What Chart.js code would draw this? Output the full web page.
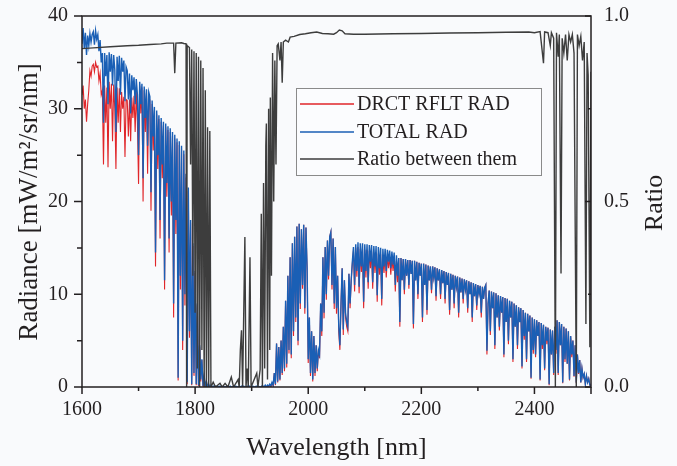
<!DOCTYPE html>
<html>
<head>
<meta charset="utf-8">
<title>Radiance and ratio</title>
<script src="https://cdn.jsdelivr.net/npm/chart.js@4.4.1/dist/chart.umd.min.js"></script>
<style>
  html, body { margin: 0; padding: 0; background: #f9fafc; }
  #chart { display: block; }
</style>
</head>
<body>
<canvas id="chart" width="677" height="466"></canvas>
<script>
// Spectra are sampled every 2 nm from 1600 to 2500 nm (one row = 20 nm)
const startNm = 1600;
const stepNm = 2;

// TOTAL RAD [mW/m2/sr/nm]
const totalRad = [
    37.0, 38.7, 36.5, 38.2, 35.8, 37.9, 36.8, 38.1, 37.2, 38.0,
    38.3, 36.9, 38.4, 37.5, 38.0, 36.2, 37.4, 35.0, 36.0, 28.5,
    36.0, 33.5, 35.8, 30.5, 36.1, 34.0, 35.9, 32.5, 35.8, 34.2,
    27.5, 35.6, 33.0, 35.7, 31.5, 35.5, 34.0, 35.2, 30.8, 34.5,
    34.1, 31.0, 33.8, 29.5, 33.6, 32.0, 33.4, 30.5, 33.2, 31.5,
    25.0, 32.9, 30.5, 32.7, 22.5, 32.4, 29.0, 32.1, 26.0, 31.8,
    31.3, 21.0, 30.9, 27.0, 30.2, 14.5, 29.8, 25.0, 29.3, 18.0,
    29.0, 24.0, 28.6, 11.5, 28.4, 22.0, 28.1, 16.0, 27.9, 20.0,
    27.5, 9.0, 27.2, 18.0, 26.8, 1.0, 26.5, 12.0, 26.0, 5.0,
    25.5, 10.0, 23.0, 0.5, 21.5, 6.0, 18.0, 0.3, 15.5, 1.5,
    12.5, 0.3, 9.0, 0.2, 4.5, 0.8, 3.0, 0.1, 1.2, 0.1,
    0.6, 0.0, 0.3, 0.0, 0.2, 0.0, 0.1, 0.0, 0.1, 0.0,
    0.1, 0.0, 0.1, 0.0, 0.0, 0.1, 0.0, 0.0, 0.1, 0.0,
    0.0, 0.1, 0.0, 0.0, 0.1, 0.0, 0.1, 0.0, 0.0, 0.1,
    0.0, 0.1, 0.0, 0.1, 0.0, 0.0, 0.1, 0.0, 0.1, 0.0,
    0.0, 0.1, 0.0, 0.0, 0.1, 0.0, 0.1, 0.0, 0.0, 0.1,
    0.1, 0.0, 0.2, 0.0, 0.2, 0.1, 0.3, 0.1, 0.5, 0.2,
    1.5, 0.3, 4.7, 0.6, 4.3, 0.8, 5.0, 1.5, 6.5, 2.0,
    9.3, 2.5, 12.0, 4.0, 14.0, 3.5, 15.5, 6.0, 16.2, 7.5,
    17.3, 5.0, 17.6, 9.0, 17.0, 11.0, 17.5, 8.5, 17.2, 12.9,
    3.0, 7.5, 1.5, 6.0, 0.8, 5.5, 1.5, 4.5, 2.0, 4.0,
    3.5, 9.0, 6.0, 14.0, 8.0, 15.1, 10.0, 15.8, 12.0, 16.2,
    16.7, 11.0, 16.0, 9.0, 15.1, 8.5, 12.0, 6.5, 4.5, 9.0,
    12.8, 6.2, 11.5, 8.0, 7.0, 6.5, 12.2, 9.0, 11.5, 13.5,
    15.1, 11.0, 15.4, 12.5, 15.6, 10.8, 15.5, 13.0, 15.5, 9.2,
    15.4, 12.5, 15.4, 11.3, 15.3, 13.5, 15.3, 11.3, 15.2, 13.0,
    15.2, 9.9, 15.1, 12.8, 15.0, 9.5, 14.9, 13.0, 14.9, 12.5,
    14.8, 13.5, 14.7, 12.8, 14.6, 13.2, 14.5, 11.0, 14.2, 12.0,
    13.9, 7.0, 13.9, 11.5, 13.8, 10.5, 13.8, 12.0, 13.7, 11.0,
    13.7, 12.2, 13.6, 6.8, 13.6, 11.5, 13.5, 10.0, 13.4, 12.0,
    13.3, 7.5, 13.3, 11.0, 13.2, 8.3, 13.1, 11.5, 13.0, 10.5,
    13.0, 11.8, 12.9, 9.8, 12.8, 11.5, 12.7, 10.0, 12.6, 11.2,
    12.5, 9.5, 12.4, 11.0, 12.3, 8.3, 12.2, 10.5, 12.1, 9.0,
    12.0, 10.8, 11.9, 8.0, 11.8, 10.2, 11.7, 9.5, 11.6, 10.5,
    11.5, 8.5, 11.4, 10.0, 11.3, 7.5, 11.2, 9.8, 11.1, 8.8,
    11.0, 10.0, 10.9, 8.0, 10.8, 9.5, 10.7, 11.0, 3.9, 9.0,
    10.4, 6.0, 10.3, 8.5, 10.2, 4.5, 10.1, 7.5, 9.9, 6.5,
    9.8, 8.0, 9.7, 3.5, 9.6, 7.0, 9.5, 5.0, 9.3, 7.5,
    9.2, 3.0, 9.0, 6.5, 8.8, 4.5, 8.6, 7.0, 8.5, 2.2,
    8.3, 5.5, 8.0, 3.0, 7.9, 6.0, 7.7, 1.0, 7.5, 4.0,
    7.3, 3.5, 7.2, 5.5, 7.0, 0.8, 6.9, 4.5, 6.7, 2.0,
    6.5, 5.0, 6.4, 0.3, 6.2, 3.5, 6.1, 1.5, 6.5, 4.0,
    7.2, 1.5, 7.0, 4.5, 6.8, 0.5, 6.5, 3.0, 6.3, 2.5,
    6.0, 0.8, 5.5, 3.5, 5.0, 1.2, 4.5, 0.5, 3.5, 1.5,
    2.9, 0.5, 2.0, 1.0, 1.4, 0.3, 1.2, 0.5, 0.9, 0.2,
    0.2
];

// DRCT RFLT RAD [mW/m2/sr/nm], same wavelengths
const directRad = [
    31.5, 32.5, 30.0, 31.0, 28.6, 30.5, 32.0, 34.1, 33.5, 34.6,
    34.8, 34.0, 35.0, 34.5, 34.6, 33.0, 33.8, 31.5, 32.0, 24.0,
    32.5, 28.5, 32.3, 23.7, 32.9, 30.0, 32.7, 26.5, 32.6, 30.0,
    23.5, 32.3, 28.5, 32.2, 27.5, 31.8, 30.0, 31.3, 24.8, 31.0,
    30.9, 27.0, 31.0, 26.5, 31.2, 29.0, 31.4, 27.5, 31.8, 28.5,
    21.9, 32.5, 29.5, 32.3, 20.0, 32.0, 27.5, 31.7, 23.0, 31.4,
    30.9, 19.0, 30.5, 25.5, 29.8, 13.0, 29.4, 23.5, 28.9, 16.0,
    28.6, 22.5, 28.2, 10.5, 28.0, 20.5, 27.7, 14.5, 27.5, 18.5,
    27.1, 7.5, 26.8, 16.5, 26.4, 0.7, 26.1, 10.5, 25.6, 4.0,
    25.1, 8.8, 22.6, 0.3, 21.1, 5.3, 17.7, 0.2, 15.2, 1.2,
    12.3, 0.2, 8.8, 0.1, 4.3, 0.6, 2.9, 0.0, 1.1, 0.0,
    0.5, 0.0, 0.2, 0.0, 0.1, 0.0, 0.0, 0.0, 0.0, 0.0,
    0.0, 0.0, 0.0, 0.0, 0.0, 0.0, 0.0, 0.0, 0.0, 0.0,
    0.0, 0.0, 0.0, 0.0, 0.0, 0.0, 0.0, 0.0, 0.0, 0.0,
    0.0, 0.0, 0.0, 0.0, 0.0, 0.0, 0.0, 0.0, 0.0, 0.0,
    0.0, 0.0, 0.0, 0.0, 0.0, 0.0, 0.0, 0.0, 0.0, 0.0,
    0.0, 0.0, 0.1, 0.0, 0.1, 0.0, 0.2, 0.0, 0.4, 0.1,
    1.5, 0.2, 4.7, 0.5, 4.3, 0.7, 5.0, 1.3, 6.5, 1.7,
    9.3, 2.1, 12.0, 3.6, 14.0, 3.1, 15.5, 5.5, 16.2, 7.0,
    17.3, 4.5, 17.6, 8.4, 17.0, 10.6, 17.5, 7.9, 17.2, 12.6,
    2.6, 7.5, 1.2, 6.0, 0.6, 5.5, 1.2, 4.5, 1.7, 4.0,
    3.1, 9.0, 5.5, 14.0, 7.4, 15.1, 9.4, 15.8, 11.6, 16.2,
    16.7, 10.5, 16.0, 8.4, 15.1, 7.9, 12.0, 5.9, 4.0, 9.0,
    12.8, 5.6, 11.5, 7.5, 6.5, 6.0, 12.2, 8.5, 11.5, 13.3,
    14.7, 10.3, 15.0, 11.9, 15.1, 10.1, 14.9, 12.4, 14.9, 8.5,
    14.8, 11.8, 14.8, 10.6, 14.7, 12.8, 14.6, 10.6, 14.5, 12.3,
    14.5, 9.2, 14.4, 12.1, 14.3, 8.8, 14.2, 12.3, 14.2, 11.8,
    14.1, 12.8, 14.0, 12.1, 13.9, 12.5, 13.8, 10.3, 13.6, 11.3,
    13.9, 6.5, 13.9, 11.5, 13.8, 10.0, 13.8, 12.0, 13.7, 10.6,
    13.7, 12.2, 13.6, 6.3, 13.6, 11.5, 13.5, 9.5, 13.4, 12.0,
    13.3, 7.0, 13.3, 11.0, 13.2, 7.8, 13.1, 11.5, 13.0, 10.1,
    13.0, 11.8, 12.9, 9.3, 12.8, 11.5, 12.7, 9.5, 12.6, 11.2,
    12.5, 9.0, 12.4, 11.0, 12.3, 7.8, 12.2, 10.5, 12.1, 8.5,
    12.0, 10.8, 11.9, 7.5, 11.8, 10.2, 11.7, 9.0, 11.6, 10.5,
    11.5, 8.0, 11.4, 10.0, 11.3, 7.0, 11.2, 9.8, 11.1, 8.3,
    11.0, 10.0, 10.9, 7.5, 10.8, 9.5, 10.7, 11.0, 3.5, 9.0,
    10.4, 5.6, 10.3, 8.5, 10.2, 4.1, 10.1, 7.5, 9.9, 6.1,
    9.8, 8.0, 9.7, 3.2, 9.6, 7.0, 9.5, 4.6, 9.3, 7.5,
    9.2, 2.7, 9.0, 6.5, 8.8, 4.1, 8.6, 7.0, 8.5, 2.0,
    8.3, 5.1, 8.0, 2.7, 7.9, 6.0, 7.7, 0.9, 7.5, 3.6,
    7.3, 3.2, 7.2, 5.5, 7.0, 0.7, 6.9, 4.1, 6.7, 1.8,
    6.5, 4.6, 6.4, 0.2, 6.2, 3.5, 6.1, 1.3, 6.5, 3.6,
    7.2, 1.3, 7.0, 4.5, 6.8, 0.4, 6.5, 2.7, 6.3, 2.5,
    6.0, 0.7, 5.5, 3.2, 5.0, 1.1, 4.5, 0.4, 3.5, 1.4,
    2.9, 0.5, 2.0, 1.0, 1.4, 0.3, 1.2, 0.5, 0.9, 0.2,
    0.2
];

// Ratio between them, on its own wavelength list (denser where it jumps)
const ratioNm = [
    1600, 1620, 1650, 1680, 1700, 1720, 1740, 1750, 1762, 1764,
    1766, 1776, 1780, 1784, 1785, 1786, 1790, 1792, 1794, 1796,
    1798, 1800, 1802, 1804, 1806, 1808, 1810, 1812, 1814, 1816,
    1818, 1820, 1822, 1824, 1826, 1828, 1832, 1836, 1844, 1848,
    1853, 1858, 1864, 1868, 1876, 1878, 1880, 1882, 1884, 1888,
    1890, 1892, 1894, 1897, 1899, 1909, 1911, 1915, 1917, 1919,
    1921, 1923, 1925, 1926, 1928, 1930, 1932, 1933, 1935, 1937,
    1939, 1941, 1943, 1945, 1947, 1950, 1952, 1954, 1956, 1960,
    1965, 1968, 1975, 1985, 1995, 2005, 2015, 2025, 2035, 2045,
    2050, 2055, 2060, 2065, 2080, 2100, 2150, 2200, 2250, 2300,
    2350, 2390, 2400, 2410, 2416, 2418, 2424, 2428, 2430, 2434,
    2437, 2439, 2442, 2444, 2447, 2449, 2452, 2455, 2458, 2461,
    2464, 2467, 2470, 2474, 2476, 2479, 2482, 2485, 2488, 2491,
    2493, 2495, 2498, 2500
];
const ratioVal = [
    0.912, 0.914, 0.917, 0.920, 0.921, 0.923, 0.925, 0.927, 0.927, 0.846,
    0.927, 0.928, 0.926, 0.925, 0.000, 0.920, 0.915, 0.600, 0.910, 0.300,
    0.905, 0.200, 0.900, 0.050, 0.890, 0.000, 0.880, 0.100, 0.860, 0.000,
    0.800, 0.000, 0.700, 0.000, 0.690, 0.000, 0.013, 0.000, 0.010, 0.000,
    0.010, 0.000, 0.027, 0.000, 0.020, 0.000, 0.100, 0.153, 0.000, 0.404,
    0.000, 0.050, 0.000, 0.350, 0.000, 0.037, 0.000, 0.047, 0.467, 0.000,
    0.550, 0.050, 0.650, 0.710, 0.020, 0.750, 0.100, 0.780, 0.300, 0.900,
    0.500, 0.880, 0.600, 0.920, 0.925, 0.880, 0.930, 0.820, 0.930, 0.935,
    0.930, 0.943, 0.945, 0.950, 0.952, 0.955, 0.957, 0.953, 0.952, 0.951,
    0.955, 0.962, 0.960, 0.952, 0.951, 0.951, 0.952, 0.953, 0.954, 0.955,
    0.956, 0.957, 0.955, 0.958, 0.873, 0.957, 0.955, 0.920, 0.955, 0.940,
    0.000, 0.955, 0.890, 0.950, 0.306, 0.940, 0.900, 0.950, 0.880, 0.950,
    0.930, 0.950, 0.900, 0.000, 0.950, 0.920, 0.945, 0.880, 0.930, 0.170,
    0.900, 0.840, 0.107, 0.850
];

// Tick labels
const xTicks = [1600, 1800, 2000, 2200, 2400];
const xMinorTicks = [1700, 1900, 2100, 2300];
const yTicks = [0, 10, 20, 30, 40];
const yMinorTicks = [5, 15, 25, 35];
const ratioTicks = [0, 0.5, 1];
const ratioMinorTicks = [0.25, 0.75];

const legendLabels = ["DRCT RFLT RAD", "TOTAL RAD", "Ratio between them"];
const seriesColors = ["#e0262a", "#1a5fb5", "#3d3d3d"];

const serif = "'Liberation Serif', 'Times New Roman', serif";
const axisColor = "#231f20";

// Draws background, frame, tick marks, axis titles and the boxed legend
const decorPlugin = {
    id: "decor",
    beforeDraw(chart) {
        const ctx = chart.ctx;
        ctx.save();
        ctx.fillStyle = "#f9fafc";
        ctx.fillRect(0, 0, chart.width, chart.height);
        ctx.restore();
    },
    afterDraw(chart) {
        const ctx = chart.ctx;
        const area = chart.chartArea;
        const xs = chart.scales.x, ys = chart.scales.y, rs = chart.scales.y1;
        ctx.save();
        ctx.strokeStyle = axisColor;
        ctx.lineWidth = 1.5;

        // frame
        ctx.strokeRect(area.left, area.top, area.right - area.left, area.bottom - area.top);

        ctx.beginPath();
        // bottom ticks (outward)
        xTicks.concat([2500]).forEach(v => {
            const px = xs.getPixelForValue(v);
            ctx.moveTo(px, area.bottom); ctx.lineTo(px, area.bottom + 7);
        });
        xMinorTicks.forEach(v => {
            const px = xs.getPixelForValue(v);
            ctx.moveTo(px, area.bottom); ctx.lineTo(px, area.bottom + 4);
        });
        // left ticks (outward)
        yTicks.forEach(v => {
            const py = ys.getPixelForValue(v);
            ctx.moveTo(area.left, py); ctx.lineTo(area.left - 8, py);
        });
        yMinorTicks.forEach(v => {
            const py = ys.getPixelForValue(v);
            ctx.moveTo(area.left, py); ctx.lineTo(area.left - 5, py);
        });
        // right ticks (inward)
        ratioTicks.forEach(v => {
            const py = rs.getPixelForValue(v);
            ctx.moveTo(area.right, py); ctx.lineTo(area.right - 6, py);
        });
        ratioMinorTicks.forEach(v => {
            const py = rs.getPixelForValue(v);
            ctx.moveTo(area.right, py); ctx.lineTo(area.right - 3, py);
        });
        ctx.stroke();

        // axis titles
        ctx.fillStyle = axisColor;
        ctx.font = "26px " + serif;
        ctx.textAlign = "center";
        ctx.textBaseline = "alphabetic";
        ctx.fillText("Wavelength [nm]", (area.left + area.right) / 2, 455);

        ctx.font = "27px " + serif;
        ctx.save();
        ctx.translate(37, 202);
        ctx.rotate(-Math.PI / 2);
        ctx.fillText("Radiance [mW/m\u00B2/sr/nm]", 0, 0);
        ctx.restore();

        ctx.font = "26px " + serif;
        ctx.save();
        ctx.translate(662, 203);
        ctx.rotate(-Math.PI / 2);
        ctx.fillText("Ratio", 0, 0);
        ctx.restore();

        // legend box
        ctx.fillStyle = "#fbfcfe";
        ctx.fillRect(296.5, 88.5, 245, 87);
        ctx.strokeStyle = "#8a8a8a";
        ctx.lineWidth = 1;
        ctx.strokeRect(296.5, 88.5, 245, 87);

        const rowsY = [104, 132, 159];
        ctx.font = "20px " + serif;
        ctx.textAlign = "left";
        ctx.textBaseline = "middle";
        legendLabels.forEach((label, i) => {
            ctx.strokeStyle = seriesColors[i];
            ctx.lineWidth = 1.6;
            ctx.beginPath();
            ctx.moveTo(300, rowsY[i]);
            ctx.lineTo(354, rowsY[i]);
            ctx.stroke();
            ctx.fillStyle = axisColor;
            ctx.fillText(label, 357, rowsY[i] + 1);
        });
        ctx.restore();
    }
};

// Drop the half-label margins Chart.js adds so the plot box sits where the original does
function noLabelMargins(scale) {
    scale.paddingTop = 0;
    scale.paddingBottom = 0;
    scale.paddingLeft = 0;
    scale.paddingRight = 0;
}

document.addEventListener("DOMContentLoaded", function () {
    // pair the spectra with their wavelengths
    const totalPoints = totalRad.map((v, i) => ({ x: startNm + i * stepNm, y: v }));
    const directPoints = directRad.map((v, i) => ({ x: startNm + i * stepNm, y: v }));
    const ratioPoints = ratioNm.map((nm, i) => ({ x: nm, y: ratioVal[i] }));

    const tickFont = { family: serif, size: 20 };

    const ctx = document.getElementById("chart").getContext("2d");
    new Chart(ctx, {
        type: "line",
        data: {
            datasets: [
                {
                    label: legendLabels[0],
                    data: directPoints,
                    borderColor: seriesColors[0],
                    borderWidth: 1.1,
                    yAxisID: "y",
                    order: 3
                },
                {
                    label: legendLabels[1],
                    data: totalPoints,
                    borderColor: seriesColors[1],
                    borderWidth: 1.4,
                    yAxisID: "y",
                    order: 2
                },
                {
                    label: legendLabels[2],
                    data: ratioPoints,
                    borderColor: seriesColors[2],
                    borderWidth: 1.4,
                    yAxisID: "y1",
                    order: 1
                }
            ]
        },
        options: {
            responsive: false,
            animation: false,
            events: [],
            elements: {
                point: { radius: 0 },
                line: { tension: 0, fill: false }
            },
            layout: {
                padding: { top: 16, left: 0, right: 0, bottom: 0 }
            },
            plugins: {
                legend: { display: false },
                tooltip: { enabled: false }
            },
            scales: {
                x: {
                    type: "linear",
                    min: 1600,
                    max: 2500,
                    grid: { display: false, drawTicks: false },
                    border: { display: false },
                    ticks: {
                        font: tickFont,
                        color: axisColor,
                        padding: 11,
                        maxRotation: 0,
                        callback: v => String(v)
                    },
                    afterBuildTicks: scale => { scale.ticks = xTicks.map(v => ({ value: v })); },
                    afterFit: scale => { scale.height = 79; noLabelMargins(scale); }
                },
                y: {
                    position: "left",
                    min: 0,
                    max: 40,
                    grid: { display: false, drawTicks: false },
                    border: { display: false },
                    ticks: { font: tickFont, color: axisColor, padding: 14, callback: v => String(v) },
                    afterBuildTicks: scale => { scale.ticks = yTicks.map(v => ({ value: v })); },
                    afterFit: scale => { scale.width = 82; noLabelMargins(scale); }
                },
                y1: {
                    position: "right",
                    min: 0,
                    max: 1,
                    grid: { display: false, drawTicks: false },
                    border: { display: false },
                    ticks: {
                        font: tickFont,
                        color: axisColor,
                        padding: 13,
                        callback: v => v.toFixed(1)
                    },
                    afterBuildTicks: scale => { scale.ticks = ratioTicks.map(v => ({ value: v })); },
                    afterFit: scale => { scale.width = 86; noLabelMargins(scale); }
                }
            }
        },
        plugins: [decorPlugin]
    });
});
</script>
</body>
</html>
